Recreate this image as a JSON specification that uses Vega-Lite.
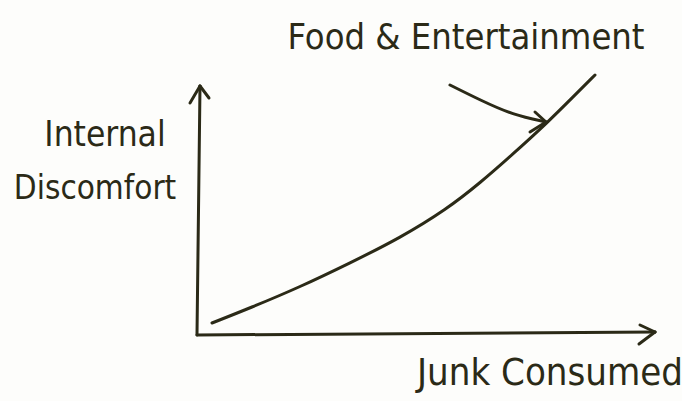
{
  "$schema": "https://vega.github.io/schema/vega-lite/v6.json",
  "width": 682,
  "height": 401,
  "autosize": {"type": "none"},
  "padding": 0,
  "background": "#fdfdfb",
  "config": {"view": {"stroke": null}},
  "datasets": {
    "strokes": [
      {"s": "yaxis", "o": 0, "x": 0, "y": 0},
      {"s": "yaxis", "o": 1, "x": 3, "y": 249},
      {"s": "yb1", "o": 0, "x": -7, "y": 232},
      {"s": "yb1", "o": 1, "x": 3, "y": 249},
      {"s": "yb2", "o": 0, "x": 3, "y": 249},
      {"s": "yb2", "o": 1, "x": 12, "y": 237},
      {"s": "xaxis", "o": 0, "x": 0, "y": 0},
      {"s": "xaxis", "o": 1, "x": 458, "y": 3},
      {"s": "xb1", "o": 0, "x": 443, "y": 10},
      {"s": "xb1", "o": 1, "x": 458, "y": 3},
      {"s": "xb2", "o": 0, "x": 442, "y": -9},
      {"s": "xb2", "o": 1, "x": 458, "y": 3},
      {"s": "curve", "o": 0, "x": 15, "y": 12},
      {"s": "curve", "o": 1, "x": 53, "y": 27},
      {"s": "curve", "o": 2, "x": 103, "y": 48},
      {"s": "curve", "o": 3, "x": 153, "y": 72},
      {"s": "curve", "o": 4, "x": 203, "y": 97},
      {"s": "curve", "o": 5, "x": 250, "y": 126},
      {"s": "curve", "o": 6, "x": 283, "y": 152},
      {"s": "curve", "o": 7, "x": 316, "y": 181},
      {"s": "curve", "o": 8, "x": 350, "y": 212},
      {"s": "curve", "o": 9, "x": 376, "y": 238},
      {"s": "curve", "o": 10, "x": 398, "y": 260},
      {"s": "pointer", "o": 0, "x": 253, "y": 250},
      {"s": "pointer", "o": 1, "x": 283, "y": 235},
      {"s": "pointer", "o": 2, "x": 316, "y": 220},
      {"s": "pointer", "o": 3, "x": 349, "y": 213},
      {"s": "pb1", "o": 0, "x": 338, "y": 223},
      {"s": "pb1", "o": 1, "x": 349, "y": 213},
      {"s": "pb2", "o": 0, "x": 333, "y": 203},
      {"s": "pb2", "o": 1, "x": 349, "y": 213}
    ],
    "labels": [
      {"t": "Food & Entertainment", "x": 269, "y": 286, "size": 36},
      {"t": "Internal", "x": -92, "y": 189, "size": 35},
      {"t": "Discomfort", "x": -102, "y": 136, "size": 33},
      {"t": "Junk Consumed", "x": 353, "y": -50, "size": 38}
    ]
  },
  "layer": [
    {
      "data": {"name": "strokes"},
      "mark": {"type": "line", "interpolate": "basis", "stroke": "#2b2a17", "strokeWidth": 3, "strokeCap": "round", "strokeJoin": "round"},
      "encoding": {
        "x": {"field": "x", "type": "quantitative", "scale": {"domain": [-197, 485], "nice": false, "zero": false}, "axis": null},
        "y": {"field": "y", "type": "quantitative", "scale": {"domain": [-66, 335], "nice": false, "zero": false}, "axis": null},
        "detail": {"field": "s"},
        "order": {"field": "o"}
      }
    },
    {
      "data": {"name": "labels"},
      "mark": {"type": "text", "align": "center", "baseline": "alphabetic", "font": "DejaVu Sans Condensed, Liberation Sans Narrow, sans-serif", "color": "#2b2a17"},
      "encoding": {
        "x": {"field": "x", "type": "quantitative", "scale": {"domain": [-197, 485], "nice": false, "zero": false}, "axis": null},
        "y": {"field": "y", "type": "quantitative", "scale": {"domain": [-66, 335], "nice": false, "zero": false}, "axis": null},
        "text": {"field": "t"},
        "size": {"field": "size", "type": "quantitative", "scale": null, "legend": null}
      }
    }
  ]
}
